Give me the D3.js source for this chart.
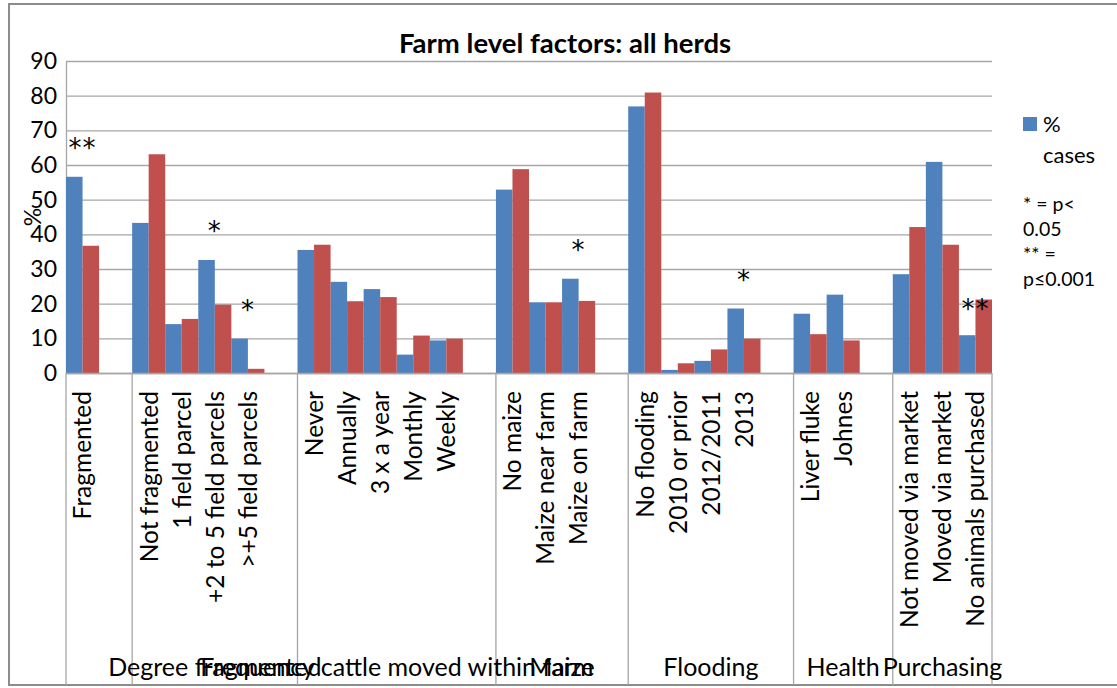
<!DOCTYPE html>
<html>
<head>
<meta charset="utf-8">
<script src="https://cdn.jsdelivr.net/npm/d3@7"></script>
<style>
  html, body { margin: 0; padding: 0; background: #fff; }
  svg { display: block; }
  text { font-family: Lato, "Open Sans", sans-serif; fill: #000; }
</style>
</head>
<body>
<svg id="chart" width="1117" height="688"></svg>
<script>
// ---- data ----
const title = "Farm level factors: all herds";
const categories = ["Fragmented", "", "Not fragmented", "1 field parcel", "+2 to 5 field parcels", ">+5 field parcels", "",
  "Never", "Annually", "3 x a year", "Monthly", "Weekly", "",
  "No maize", "Maize near farm", "Maize on farm", "",
  "No flooding", "2010 or prior", "2012/2011", "2013", "",
  "Liver fluke", "Johnes", "",
  "Not moved via market", "Moved via market", "No animals purchased"];
const casesPct = [56.6, null, 43.3, 14.1, 32.6, 9.9, null, 35.5, 26.3, 24.2, 5.3, 9.4, null, 52.9, 20.4, 27.2, null, 76.9, 0.9, 3.5, 18.6, null, 17.1, 22.6, null, 28.5, 60.9, 10.9];
const controlsPct = [36.7, null, 63.1, 15.6, 19.7, 1.2, null, 37.0, 20.7, 21.9, 10.8, 9.9, null, 58.8, 20.4, 20.8, null, 80.9, 2.8, 6.8, 9.9, null, 11.2, 9.4, null, 42.1, 37.0, 21.2];
const seriesNames = ["% cases", "% controls"];
const groupNames = ["", "Degree fragmented", "Frequency cattle moved within farm", "Maize", "Flooding", "Health", "Purchasing"];
const groupStarts = [0, 2, 7, 13, 17, 22, 25];
const groupEnds = [2, 7, 13, 17, 22, 25, 28];
const markCategory = [0, 4, 5, 15, 20, 27];
const markText = ["**", "*", "*", "*", "*", "**"];
const markLevel = [66, 42, 19.2, 36.5, 28, 19.7];
const yTicks = [0, 10, 20, 30, 40, 50, 60, 70, 80, 90];
const yLabel = "%";
const noteLines = ["* = p<", "0.05", "** =", "p\u22640.001"];

// ---- layout ----
const colors = ["#4F81BD", "#C0504D"];
const svg = d3.select("#chart");
const plot = { left: 66, right: 992, top: 61, bottom: 373 };

// outer chart border
svg.append("rect").attr("x", 9).attr("y", 4).attr("width", 1200).attr("height", 681)
  .attr("fill", "none").attr("stroke", "#8c8c8c").attr("stroke-width", 2);

const x = d3.scaleBand().domain(d3.range(categories.length)).range([plot.left, plot.right]).paddingInner(0).paddingOuter(0);
const y = d3.scaleLinear().domain([0, 90]).range([plot.bottom, plot.top]);
const xs = d3.scaleBand().domain([0, 1]).range([0, x.bandwidth()]).padding(0);

// gridlines
svg.append("g").selectAll("line").data(yTicks).join("line")
  .attr("x1", plot.left).attr("x2", plot.right)
  .attr("y1", d => y(d) + 0.5).attr("y2", d => y(d) + 0.5)
  .attr("stroke", "#a6a6a6").attr("stroke-width", 1.3);

// y axis
const yAxis = d3.axisLeft(y).tickValues(yTicks).tickSize(0).tickPadding(9);
const gy = svg.append("g").attr("transform", `translate(${plot.left},0)`).call(yAxis);
gy.select(".domain").attr("stroke", "#a6a6a6").attr("stroke-width", 1.3);
gy.selectAll("text").attr("font-size", 23).attr("fill", "#000");

svg.append("text").attr("transform", `translate(41,${y(45)}) rotate(-90)`)
  .attr("text-anchor", "middle").attr("font-size", 23).text(yLabel);

// bars
const series = [casesPct, controlsPct];
series.forEach((vals, si) => {
  svg.append("g").selectAll("rect")
    .data(vals.map((v, i) => ({ i, v })).filter(d => d.v != null))
    .join("rect")
    .attr("x", d => x(d.i) + xs(si))
    .attr("width", xs.bandwidth())
    .attr("y", d => y(d.v))
    .attr("height", d => y(0) - y(d.v))
    .attr("fill", colors[si]);
});

// x axis line and group separators
svg.append("line").attr("x1", plot.left).attr("x2", plot.right)
  .attr("y1", plot.bottom + 0.5).attr("y2", plot.bottom + 0.5)
  .attr("stroke", "#a6a6a6").attr("stroke-width", 1.3);
const sepIdx = groupStarts.concat([categories.length]);
svg.append("g").selectAll("line").data(sepIdx).join("line")
  .attr("x1", d => d < categories.length ? x(d) : plot.right)
  .attr("x2", d => d < categories.length ? x(d) : plot.right)
  .attr("y1", plot.bottom).attr("y2", 685)
  .attr("stroke", "#a6a6a6").attr("stroke-width", 1.3);

// category labels
svg.append("g").selectAll("text").data(categories).join("text")
  .attr("transform", (d, i) => `translate(${x(i) + x.bandwidth() / 2},391) rotate(-90)`)
  .attr("dy", "0.36em").attr("text-anchor", "end").attr("font-size", 24.5)
  .text(d => d);

// group labels
svg.append("g").selectAll("text").data(groupNames).join("text")
  .attr("x", (d, i) => (x(groupStarts[i]) + (groupEnds[i] < categories.length ? x(groupEnds[i]) : plot.right)) / 2)
  .attr("y", 676).attr("text-anchor", "middle").attr("font-size", 25)
  .text(d => d);

// significance marks
svg.append("g").selectAll("text").data(markCategory).join("text")
  .attr("x", d => x(d) + x.bandwidth() / 2)
  .attr("y", (d, k) => y(markLevel[k]))
  .attr("dy", "0.5em").attr("text-anchor", "middle")
  .style("font-family", "'DejaVu Sans', sans-serif").attr("font-size", 26)
  .attr("letter-spacing", 1)
  .text((d, k) => markText[k]);

// title
svg.append("text").attr("x", 565).attr("y", 53).attr("text-anchor", "middle")
  .attr("font-size", 27.5).attr("font-weight", "bold").text(title);

// legend
const lg = svg.append("g").attr("transform", "translate(1023,117)");
lg.append("rect").attr("width", 14).attr("height", 14).attr("fill", colors[0]);
const parts = seriesNames[0].split(" ");
lg.append("text").attr("x", 20).attr("y", 15).attr("font-size", 22).text(parts[0]);
lg.append("text").attr("x", 20).attr("y", 46).attr("font-size", 22).text(parts[1]);

svg.append("g").selectAll("text").data(noteLines).join("text")
  .attr("x", 1023).attr("y", (d, i) => 211 + i * 25)
  .attr("font-size", 19.5).text(d => d);
</script>
</body>
</html>
